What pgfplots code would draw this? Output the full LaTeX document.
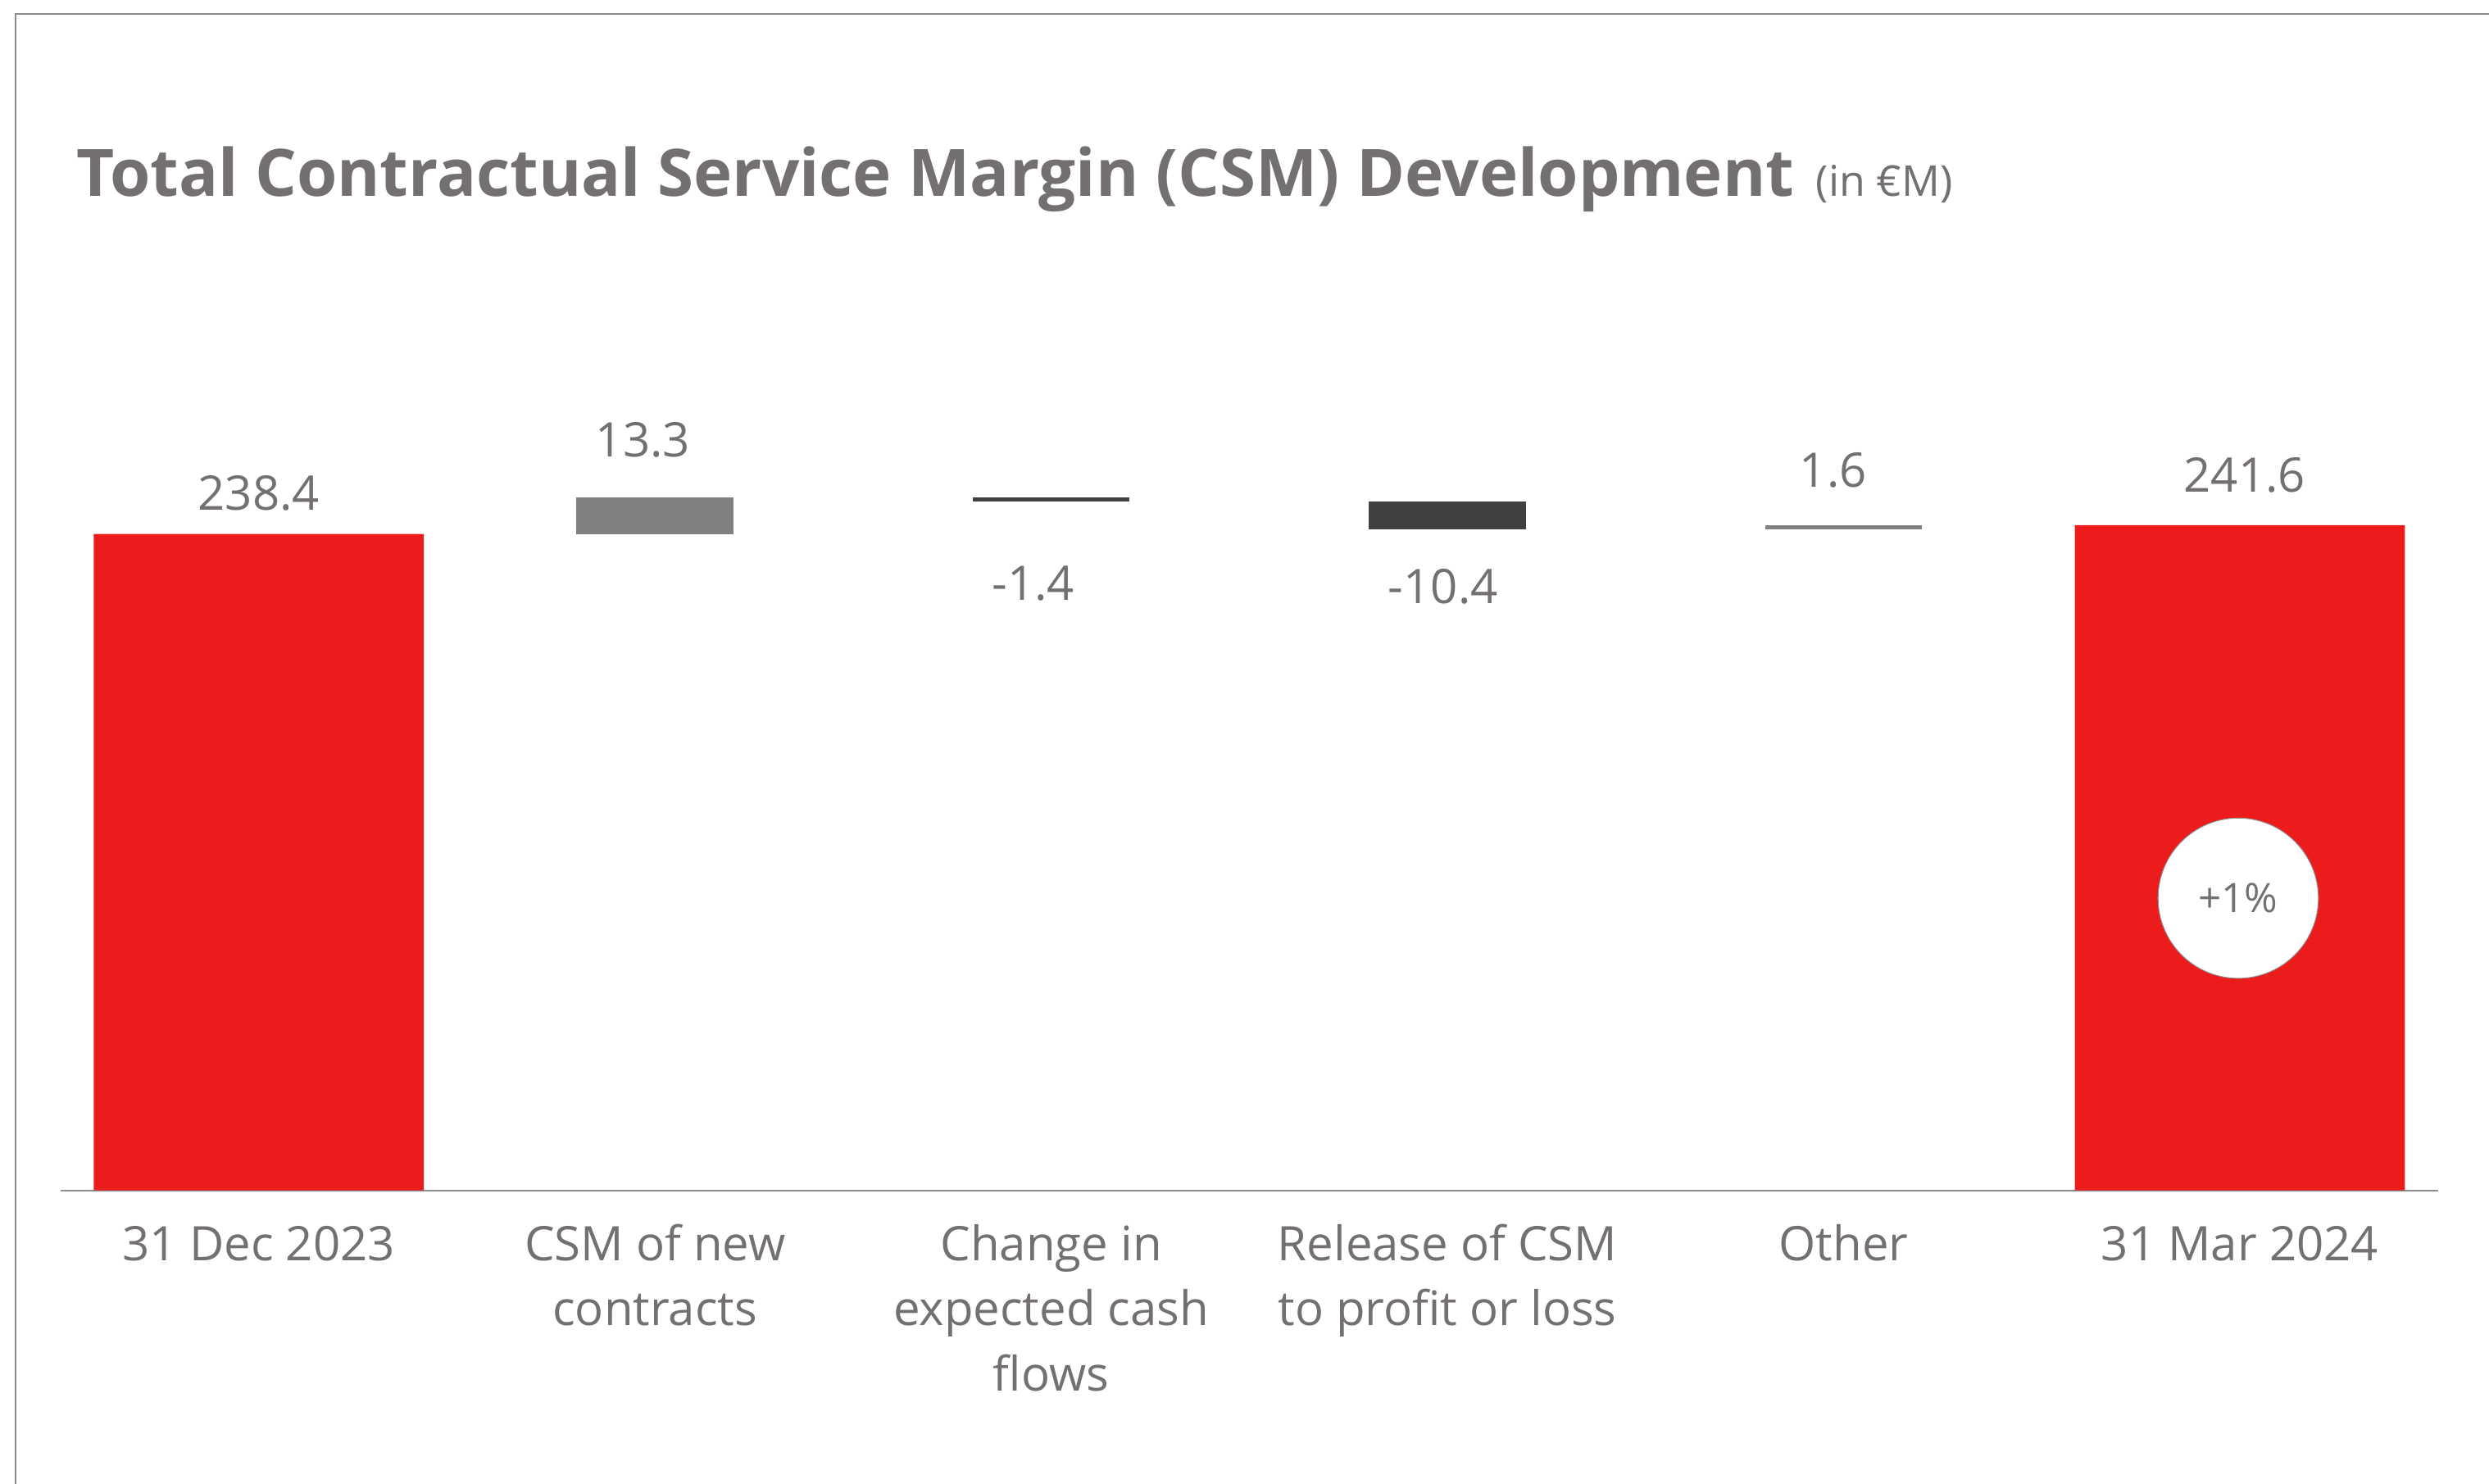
\documentclass[border=0pt]{standalone}
\usepackage{fontspec}
\setmainfont{Open Sans}
\usepackage{pgfplots}
\pgfplotsset{compat=1.18}
\definecolor{cred}{RGB}{237,28,28}
\definecolor{cgray}{RGB}{128,128,128}
\definecolor{cdark}{RGB}{64,64,64}
\definecolor{ctext}{RGB}{117,112,112}
\definecolor{cline}{RGB}{140,140,140}
\begin{document}
\begin{tikzpicture}[x=1pt,y=1pt]
\draw[cline, line width=1pt] (10,0) -- (10,926) -- (1575,926);
\node[anchor=base west, inner sep=0pt, text=ctext, font=\fontsize{41.2}{48}\selectfont\bfseries] at (48,811.4)
  {Total Contractual Service Margin (CSM) Development\hspace{3pt} {\fontsize{26.8}{32}\selectfont\mdseries (in €M)}};
\begin{axis}[
  at={(163pt,185pt)}, anchor=origin,
  x=249.6pt, y=1.735pt,
  xmin=-0.5, xmax=5.5, ymin=0, ymax=300,
  axis x line=bottom, axis y line=none,
  axis line style={cline, line width=1pt, -},
  xtick={0,1,2,3,4,5}, major tick length=0pt,
  xticklabels={\strut 31 Dec 2023, {\strut CSM of new\\contracts}, {\strut Change in\\expected cash\\flows}, {\strut Release of CSM\\to profit or loss}, \strut Other, \strut 31 Mar 2024},
  xticklabel style={align=center, font=\fontsize{30}{41}\selectfont, text=ctext, anchor=north, yshift=-15.3pt, inner sep=0pt},
  clip=false,
]
\addplot[ybar, bar width=208pt, bar shift=0pt, fill=cred, draw=none] coordinates {(0,238.4) (5,241.6)};
\addplot[fill=cgray, draw=none] coordinates {(0.8017,238.4) (1.1983,238.4) (1.1983,251.7) (0.8017,251.7)} -- cycle;
\addplot[fill=cdark, draw=none] coordinates {(1.8017,250.3) (2.1983,250.3) (2.1983,251.7) (1.8017,251.7)} -- cycle;
\addplot[fill=cdark, draw=none] coordinates {(2.8017,239.9) (3.1983,239.9) (3.1983,250.3) (2.8017,250.3)} -- cycle;
\addplot[fill=cgray, draw=none] coordinates {(3.8017,239.9) (4.1983,239.9) (4.1983,241.5) (3.8017,241.5)} -- cycle;
\begin{scope}[every node/.style={anchor=base, inner sep=0pt, text=ctext, font=\fontsize{30}{36}\selectfont}]
\node at (axis cs:0,246.9) {238.4};
\node at (axis cs:0.9696,266.3) {13.3};
\node at (axis cs:1.955,214.4) {-1.4};
\node at (axis cs:2.989,213.0) {-10.4};
\node at (axis cs:3.974,255.3) {1.6};
\node at (axis cs:5.012,253.6) {241.6};
\end{scope}
\node[circle, fill=white, draw=cline, line width=0.5pt, minimum size=101pt, inner sep=0pt, text=ctext, font=\fontsize{25.5}{30}\selectfont] at (axis cs:4.996,106.1) {+1\%};
\end{axis}
\pgfresetboundingbox
\path[use as bounding box] (0,0) rectangle (1568,935);
\end{tikzpicture}
\end{document}
